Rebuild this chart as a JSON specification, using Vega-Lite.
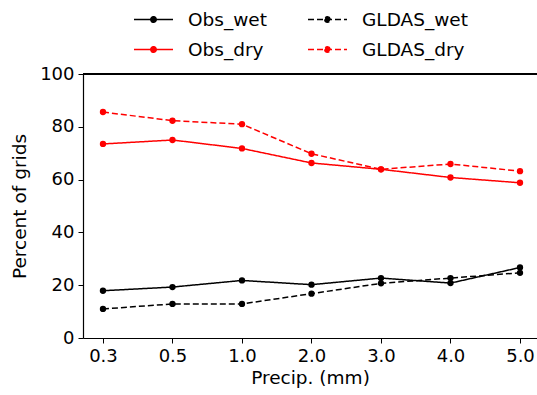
{
  "$schema": "https://vega.github.io/schema/vega-lite/v6.json",
  "width": 454,
  "height": 264,
  "autosize": {"type": "none"},
  "padding": {"left": 83, "top": 74, "right": 0, "bottom": 57},
  "config": {
    "font": "DejaVu Sans",
    "view": {"stroke": null},
    "axis": {"grid": false, "domainColor": "#000000", "domainWidth": 1.2, "tickColor": "#000000", "labelColor": "#000000", "titleColor": "#000000", "labelFontSize": 18, "titleFontSize": 18.5, "titleFontWeight": "normal", "tickSize": 5, "labelPadding": 4}
  },
  "data": {
    "values": [
      {"precip": "0.3", "series": "Obs_wet", "value": 17.9},
      {"precip": "0.5", "series": "Obs_wet", "value": 19.3},
      {"precip": "1.0", "series": "Obs_wet", "value": 21.8},
      {"precip": "2.0", "series": "Obs_wet", "value": 20.2},
      {"precip": "3.0", "series": "Obs_wet", "value": 22.7},
      {"precip": "4.0", "series": "Obs_wet", "value": 20.8},
      {"precip": "5.0", "series": "Obs_wet", "value": 26.7},
      {"precip": "0.3", "series": "GLDAS_wet", "value": 11.0},
      {"precip": "0.5", "series": "GLDAS_wet", "value": 12.9},
      {"precip": "1.0", "series": "GLDAS_wet", "value": 12.9},
      {"precip": "2.0", "series": "GLDAS_wet", "value": 16.8},
      {"precip": "3.0", "series": "GLDAS_wet", "value": 20.7},
      {"precip": "4.0", "series": "GLDAS_wet", "value": 22.7},
      {"precip": "5.0", "series": "GLDAS_wet", "value": 24.7},
      {"precip": "0.3", "series": "Obs_dry", "value": 73.5},
      {"precip": "0.5", "series": "Obs_dry", "value": 75.0},
      {"precip": "1.0", "series": "Obs_dry", "value": 71.8},
      {"precip": "2.0", "series": "Obs_dry", "value": 66.3},
      {"precip": "3.0", "series": "Obs_dry", "value": 63.9},
      {"precip": "4.0", "series": "Obs_dry", "value": 60.8},
      {"precip": "5.0", "series": "Obs_dry", "value": 58.8},
      {"precip": "0.3", "series": "GLDAS_dry", "value": 85.6},
      {"precip": "0.5", "series": "GLDAS_dry", "value": 82.3},
      {"precip": "1.0", "series": "GLDAS_dry", "value": 81.0},
      {"precip": "2.0", "series": "GLDAS_dry", "value": 69.8},
      {"precip": "3.0", "series": "GLDAS_dry", "value": 63.9},
      {"precip": "4.0", "series": "GLDAS_dry", "value": 65.9},
      {"precip": "5.0", "series": "GLDAS_dry", "value": 63.2}
    ]
  },
  "layer": [
    {"mark": {"type": "rule", "color": "#000000", "strokeWidth": 1.2},
     "encoding": {"y": {"datum": 100, "type": "quantitative", "scale": {"domain": [0, 100], "nice": false}}}},
    {"encoding": {
      "x": {"field": "precip", "type": "ordinal", "sort": ["0.3", "0.5", "1.0", "2.0", "3.0", "4.0", "5.0"], "scale": {"type": "point", "padding": 0.266, "align": 0.54}, "axis": {"title": "Precip. (mm)", "labelAngle": 0, "titlePadding": 3}},
      "y": {"field": "value", "type": "quantitative", "scale": {"domain": [0, 100], "nice": false}, "axis": {"title": "Percent of grids", "values": [0, 20, 40, 60, 80, 100], "titlePadding": 10}},
      "color": {"field": "series", "type": "nominal", "scale": {"domain": ["Obs_wet", "GLDAS_wet", "Obs_dry", "GLDAS_dry"], "range": ["#000000", "#000000", "#ff0000", "#ff0000"]},
        "legend": {"title": null, "orient": "none", "legendX": 50, "legendY": -75, "direction": "horizontal", "columns": 2, "labelFontSize": 18.5, "labelColor": "#000000", "symbolType": "M-1,0L1,0M-0.14,0A0.14,0.14 0 1,0 0.14,0A0.14,0.14 0 1,0 -0.14,0", "symbolSize": 1521, "symbolStrokeWidth": 1.5, "labelOffset": 14, "columnPadding": 38, "rowPadding": -10, "labelLimit": 300}}
    },
    "layer": [
      {"mark": {"type": "line", "strokeWidth": 1.5},
       "encoding": {"strokeDash": {"field": "series", "type": "nominal", "scale": {"domain": ["Obs_wet", "GLDAS_wet", "Obs_dry", "GLDAS_dry"], "range": [[1, 0], [6, 3], [1, 0], [6, 3]]}, "legend": {"title": null}}}},
      {"mark": {"type": "point", "filled": true, "size": 40, "opacity": 1}}
    ]}
  ]
}
